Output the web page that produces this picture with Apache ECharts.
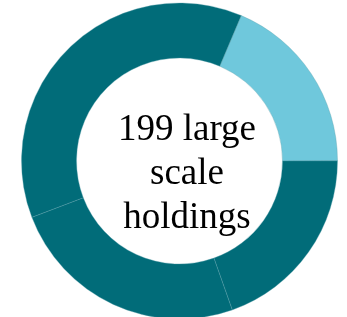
<!DOCTYPE html>
<html>
<head>
<meta charset="utf-8">
<script src="https://cdn.jsdelivr.net/npm/echarts@6/dist/echarts.min.js"></script>
<style>
  html, body { margin: 0; padding: 0; background: #fff; }
  #chart { width: 347px; height: 317px; }
</style>
</head>
<body>
<div id="chart"></div>
<script>
// holdings per group, clockwise from the light segment
const groups = ["A", "B", "C", "D"];
const holdings = [37, 39, 49, 74];
const colors = ["#6fc8dc", "#016c79", "#016c79", "#016c79"];
const centerLines = ["199 large", "scale", "holdings"];

const chart = echarts.init(document.getElementById("chart"));

const option = {
  animation: false,
  graphic: [
    {
      type: "text",
      x: 187,
      y: 174,
      style: {
        text: centerLines.join("\n"),
        fill: "#000",
        font: '37px "Liberation Serif", serif',
        lineHeight: 44,
        align: "center",
        verticalAlign: "middle",
      },
    },
  ],
  series: [
    {
      type: "pie",
      center: [179.5, 161],
      radius: [103, 158],
      startAngle: 67,
      clockwise: true,
      label: { show: false },
      labelLine: { show: false },
      itemStyle: {
        borderColor: "rgba(90,160,170,0.6)",
        borderWidth: 0.6,
      },
      data: groups.map((g, i) => ({
        name: g,
        value: holdings[i],
        itemStyle: { color: colors[i] },
      })),
    },
  ],
};
chart.setOption(option);
</script>
</body>
</html>
